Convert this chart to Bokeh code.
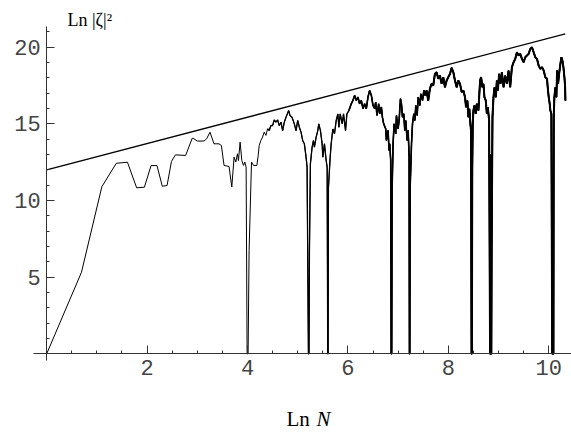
from bokeh.plotting import figure
from bokeh.models import FixedTicker, Label
from bokeh.embed import file_html
from bokeh.resources import INLINE

# ln N  versus  ln |zeta|^2 (values clipped at the axis where zeta vanishes)
ln_n = [
    0.0, 0.693, 1.099, 1.386, 1.609, 1.792, 1.946, 2.079,
    2.197, 2.303, 2.398, 2.485, 2.565, 2.767, 2.9, 2.933,
    3.0, 3.133, 3.187, 3.253, 3.333, 3.433, 3.48, 3.533,
    3.633, 3.687, 3.733, 3.767, 3.8, 3.82, 3.853, 3.887,
    3.92, 3.947, 3.973, 3.992, 4.012, 4.032, 4.08, 4.12,
    4.187, 4.213, 4.233, 4.267, 4.3, 4.333, 4.367, 4.4,
    4.433, 4.467, 4.5, 4.533, 4.567, 4.6, 4.633, 4.667,
    4.7, 4.733, 4.767, 4.82, 4.847, 4.887, 4.933, 4.967,
    5.0, 5.033, 5.067, 5.1, 5.133, 5.167, 5.187, 5.214,
    5.225, 5.234, 5.253, 5.287, 5.313, 5.333, 5.367, 5.4,
    5.42, 5.453, 5.487, 5.5, 5.533, 5.567, 5.587, 5.598,
    5.606, 5.612, 5.647, 5.667, 5.7, 5.733, 5.767, 5.8,
    5.82, 5.847, 5.887, 5.913, 5.953, 5.98, 6.02, 6.067,
    6.1, 6.133, 6.167, 6.2, 6.233, 6.267, 6.3, 6.333,
    6.367, 6.4, 6.433, 6.467, 6.5, 6.533, 6.553, 6.58,
    6.613, 6.633, 6.667, 6.687, 6.713, 6.753, 6.767, 6.8,
    6.82, 6.833, 6.853, 6.862, 6.872, 6.88, 6.9, 6.92,
    6.953, 6.967, 7.0, 7.02, 7.047, 7.067, 7.087, 7.113,
    7.133, 7.153, 7.18, 7.2, 7.22, 7.226, 7.233, 7.24,
    7.267, 7.287, 7.313, 7.333, 7.353, 7.38, 7.4, 7.433,
    7.453, 7.487, 7.513, 7.54, 7.567, 7.6, 7.633, 7.667,
    7.7, 7.733, 7.767, 7.8, 7.833, 7.867, 7.9, 7.933,
    7.967, 8.0, 8.033, 8.067, 8.1, 8.133, 8.167, 8.2,
    8.233, 8.267, 8.3, 8.333, 8.353, 8.38, 8.4, 8.42,
    8.44, 8.453, 8.463, 8.47, 8.477, 8.487, 8.5, 8.52,
    8.547, 8.567, 8.6, 8.633, 8.653, 8.68, 8.7, 8.72,
    8.747, 8.767, 8.787, 8.813, 8.832, 8.838, 8.844, 8.85,
    8.857, 8.863, 8.88, 8.9, 8.92, 8.947, 8.967, 8.987,
    9.013, 9.04, 9.067, 9.1, 9.133, 9.167, 9.2, 9.233,
    9.267, 9.3, 9.333, 9.367, 9.4, 9.433, 9.467, 9.5,
    9.533, 9.567, 9.6, 9.633, 9.667, 9.7, 9.733, 9.767,
    9.8, 9.833, 9.867, 9.9, 9.933, 9.967, 9.98, 10.0,
    10.02, 10.033, 10.053, 10.07, 10.077, 10.083, 10.088, 10.094,
    10.1, 10.113, 10.133, 10.153, 10.167, 10.187, 10.207, 10.233,
    10.253, 10.273, 10.293, 10.313, 10.327, 10.333,
]
ln_zeta2 = [
    0.0, 5.32, 10.9, 12.43, 12.5, 10.83, 10.87, 12.28,
    12.28, 10.93, 10.98, 12.55, 12.98, 12.94, 14.07, 14.03,
    13.88, 13.88, 14.03, 14.46, 13.7, 13.7, 13.59, 12.29,
    12.22, 10.88, 12.83, 12.51, 13.05, 12.61, 13.81, 12.61,
    12.29, 12.51, 12.18, 0.0, 0.0, 6.74, 12.51, 12.29,
    12.29, 12.94, 13.59, 13.92, 14.14, 14.46, 14.25, 14.68,
    14.57, 14.9, 14.89, 15.26, 15.11, 15.26, 14.89, 15.11,
    14.56, 15.11, 15.43, 15.87, 15.54, 15.43, 15.0, 14.56,
    15.22, 14.78, 14.46, 13.91, 13.7, 12.83, 12.17, 0.0,
    0.0, 6.7, 12.39, 13.48, 13.91, 13.48, 14.13, 14.56,
    15.0, 14.56, 13.7, 12.83, 13.7, 12.61, 12.17, 0.0,
    0.0, 10.8, 12.83, 13.7, 14.67, 14.35, 15.22, 15.65,
    14.78, 15.65, 15.0, 15.65, 14.56, 15.65, 15.87, 16.31,
    16.53, 16.86, 16.53, 16.75, 16.31, 16.53, 15.99, 16.31,
    15.99, 16.75, 17.18, 16.86, 16.2, 15.99, 16.42, 15.55,
    16.31, 15.66, 16.1, 15.44, 15.0, 14.68, 13.92, 14.57,
    13.27, 13.7, 12.62, 0.0, 0.0, 10.6, 13.7, 15.0,
    14.35, 15.55, 14.68, 15.22, 16.64, 16.31, 15.44, 15.66,
    14.57, 15.22, 13.92, 14.57, 12.83, 0.0, 0.0, 10.8,
    13.7, 15.01, 15.66, 15.22, 16.2, 15.55, 16.75, 16.2,
    16.96, 16.53, 17.18, 16.86, 17.18, 16.52, 17.29, 17.61,
    17.5, 18.26, 18.37, 17.94, 18.16, 17.61, 18.05, 17.39,
    17.83, 18.05, 18.26, 18.66, 18.37, 17.83, 17.39, 17.83,
    17.61, 17.07, 17.18, 16.74, 16.09, 16.52, 15.44, 15.98,
    15.0, 14.57, 0.0, 0.0, 12.0, 15.0, 15.87, 16.2,
    15.66, 16.31, 15.87, 17.83, 18.05, 17.39, 17.61, 16.74,
    16.52, 15.66, 16.09, 15.22, 0.0, 0.0, 13.0, 0.0,
    0.0, 6.7, 15.44, 16.74, 17.39, 16.74, 17.83, 17.18,
    18.26, 17.61, 18.37, 17.39, 18.15, 17.61, 18.48, 17.39,
    18.7, 19.02, 19.24, 19.67, 19.46, 19.57, 19.24, 19.02,
    19.35, 19.46, 19.57, 19.89, 20.0, 19.67, 19.35, 19.24,
    18.8, 18.59, 18.7, 18.48, 18.04, 17.94, 17.39, 16.74,
    16.3, 15.87, 15.65, 0.0, 0.0, 6.9, 0.0, 0.0,
    15.44, 16.74, 17.39, 16.74, 18.48, 17.61, 18.26, 18.91,
    19.35, 19.13, 18.7, 18.04, 17.39, 16.52,
]

# straight upper bound
bound_ln_n = [0.0, 10.33]
bound_ln_zeta2 = [12.0, 20.87]

x_major = [2, 4, 6, 8, 10]
x_minor = [0.5, 1.0, 1.5, 2.5, 3.0, 3.5, 4.5, 5.0, 5.5,
           6.5, 7.0, 7.5, 8.5, 9.0, 9.5]
y_major = [5, 10, 15, 20]
y_minor = [1, 2, 3, 4, 6, 7, 8, 9, 11, 12, 13, 14,
           16, 17, 18, 19, 21]

# the plot frame fills the whole canvas; axes are bounded to the plot range
p = figure(
    width=571, height=432,
    x_range=(-0.92, 10.454), y_range=(-5.134, 23.05),
    output_backend="svg", toolbar_location=None,
    min_border=0,
)
p.outline_line_color = None
p.grid.visible = False
p.background_fill_color = "white"
p.border_fill_color = "white"

p.line(ln_n, ln_zeta2, line_color="black", line_width=1.0)

# sampling gets denser with N: the trace reads as a progressively heavier band
for start, width in ((4.4, 1.3), (6.0, 1.6), (7.5, 2.0)):
    i = next(k for k, v in enumerate(ln_n) if v >= start)
    p.line(ln_n[i:], ln_zeta2[i:], line_color="black", line_width=width)

p.line(bound_ln_n, bound_ln_zeta2, line_color="black", line_width=1.3)

# axes crossing at the origin, ticks pointing into the plot
p.xaxis.fixed_location = 0
p.yaxis.fixed_location = 0
p.xaxis.bounds = (-0.263, 10.454)
p.yaxis.bounds = (-0.437, 21.35)
p.xaxis.ticker = FixedTicker(ticks=x_major, minor_ticks=x_minor)
p.yaxis.ticker = FixedTicker(ticks=y_major, minor_ticks=y_minor)
for ax in (p.xaxis, p.yaxis):
    ax.major_tick_in = 8
    ax.major_tick_out = 0
    ax.minor_tick_in = 3
    ax.minor_tick_out = 0
    ax.axis_line_color = "#333333"
    ax.major_tick_line_color = "#333333"
    ax.minor_tick_line_color = "#333333"
    ax.major_label_text_font = "Liberation Mono"
    ax.major_label_text_font_size = "22px"
    ax.major_label_text_color = "#444444"
    ax.major_label_standoff = 6

p.add_layout(Label(x=67, y=413, x_units="screen", y_units="screen",
                   text="Ln |ζ|²", text_font="Liberation Serif",
                   text_font_size="18px", text_baseline="alphabetic",
                   text_color="black"))
p.add_layout(Label(x=286, y=14, x_units="screen", y_units="screen",
                   text="Ln", text_font="Liberation Serif",
                   text_font_size="21px", text_baseline="alphabetic",
                   text_color="black"))
p.add_layout(Label(x=316, y=14, x_units="screen", y_units="screen",
                   text="N", text_font="Liberation Serif",
                   text_font_style="italic",
                   text_font_size="21px", text_baseline="alphabetic",
                   text_color="black"))

open("out.html", "w").write(file_html(p, INLINE))
